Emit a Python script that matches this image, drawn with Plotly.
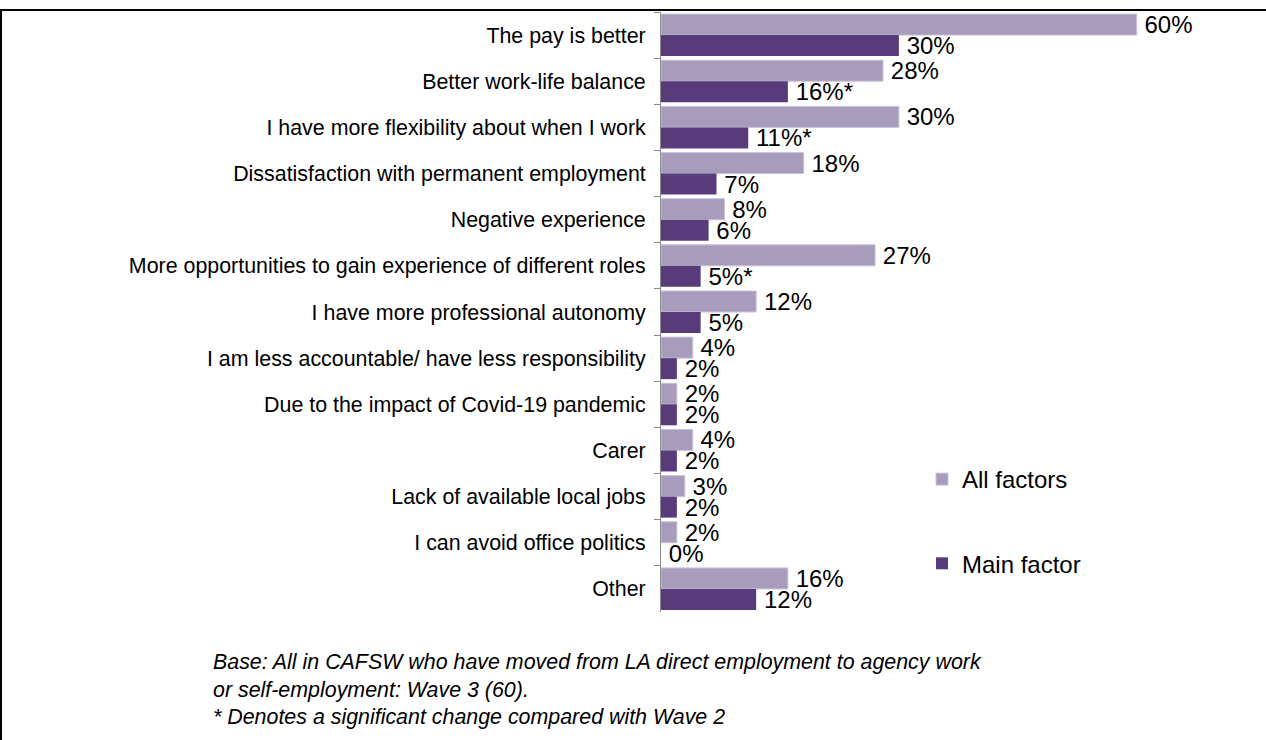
import plotly.graph_objects as go

categories = [
    "The pay is better",
    "Better work-life balance",
    "I have more flexibility about when I work",
    "Dissatisfaction with permanent employment",
    "Negative experience",
    "More opportunities to gain experience of different roles",
    "I have more professional autonomy",
    "I am less accountable/ have less responsibility",
    "Due to the impact of Covid-19 pandemic",
    "Carer",
    "Lack of available local jobs",
    "I can avoid office politics",
    "Other",
]
all_factors = [60, 28, 30, 18, 8, 27, 12, 4, 2, 4, 3, 2, 16]
main_factor = [30, 16, 11, 7, 6, 5, 5, 2, 2, 2, 2, 0, 12]
# asterisk = significant change vs wave 2
main_flags = ["", "*", "*", "", "", "*", "", "", "", "", "", "", ""]

# thin space in front so labels sit a bit off the bar end
all_text = [f"\u2009{v}%" for v in all_factors]
main_text = [f"\u2009{v}%{f}" for v, f in zip(main_factor, main_flags)]

W, H = 1266, 740
L, R, T, B = 661, 50, 12, 128
pw, ph = W - L - R, H - T - B


def px_x(x):
    return (x - L) / pw


def px_y(y):
    return (H - B - y) / ph


fig = go.Figure()
fig.add_trace(go.Bar(
    y=categories, x=all_factors, orientation="h", name="All factors",
    marker=dict(color="#A89CBD", line=dict(color="#C9C1D8", width=1)),
    text=all_text, textposition="outside", constraintext="none", cliponaxis=False,
    textfont=dict(size=24, color="black"), legendgroup="a",
))
fig.add_trace(go.Bar(
    y=categories, x=main_factor, orientation="h", name="Main factor",
    marker=dict(color="#573B7A", line=dict(width=0)),
    text=main_text, textposition="outside", constraintext="none", cliponaxis=False,
    textfont=dict(size=24, color="black"), legendgroup="b",
))

fig.update_layout(
    width=W, height=H,
    margin=dict(l=L, r=R, t=T, b=B),
    paper_bgcolor="white", plot_bgcolor="white",
    barmode="group", bargap=0.09, bargroupgap=0,
    font=dict(family="Liberation Sans, Arial, sans-serif", color="black"),
    showlegend=True,
    legend=dict(
        x=px_x(922), y=px_y(457), xanchor="left", yanchor="top",
        font=dict(size=24), tracegroupgap=50, traceorder="grouped",
        itemwidth=30, bgcolor="rgba(0,0,0,0)",
    ),
    xaxis=dict(range=[0, 70], visible=False),
    yaxis=dict(
        autorange="reversed", showline=True, linecolor="#8C8C8C", linewidth=1,
        ticks="outside", ticklen=6, tickcolor="#8C8C8C", tickson="boundaries",
        tickfont=dict(size=21.4), showgrid=False, ticklabelstandoff=10,
    ),
)

# frame lines (top and left)
fig.add_shape(type="line", xref="paper", yref="paper",
              x0=px_x(0), x1=px_x(W), y0=px_y(10), y1=px_y(10),
              line=dict(color="black", width=2))
fig.add_shape(type="line", xref="paper", yref="paper",
              x0=px_x(1), x1=px_x(1), y0=px_y(10), y1=px_y(H),
              line=dict(color="black", width=2))

notes = [
    "Base: All in CAFSW who have moved from LA direct employment to agency work",
    "or self-employment: Wave 3 (60).",
    "* Denotes a significant change compared with Wave 2",
]
for i, n in enumerate(notes):
    fig.add_annotation(
        xref="paper", yref="paper", x=px_x(211), y=px_y(662 + i * 27.5),
        xanchor="left", yanchor="middle", showarrow=False,
        text=f"<i>{n}</i>", font=dict(size=21.4),
    )

# page body has a default 8px margin, drop it so the figure sits at 0,0
fig.write_html("out.html", config={"displayModeBar": False},
               post_script="document.body.style.margin='0';")
